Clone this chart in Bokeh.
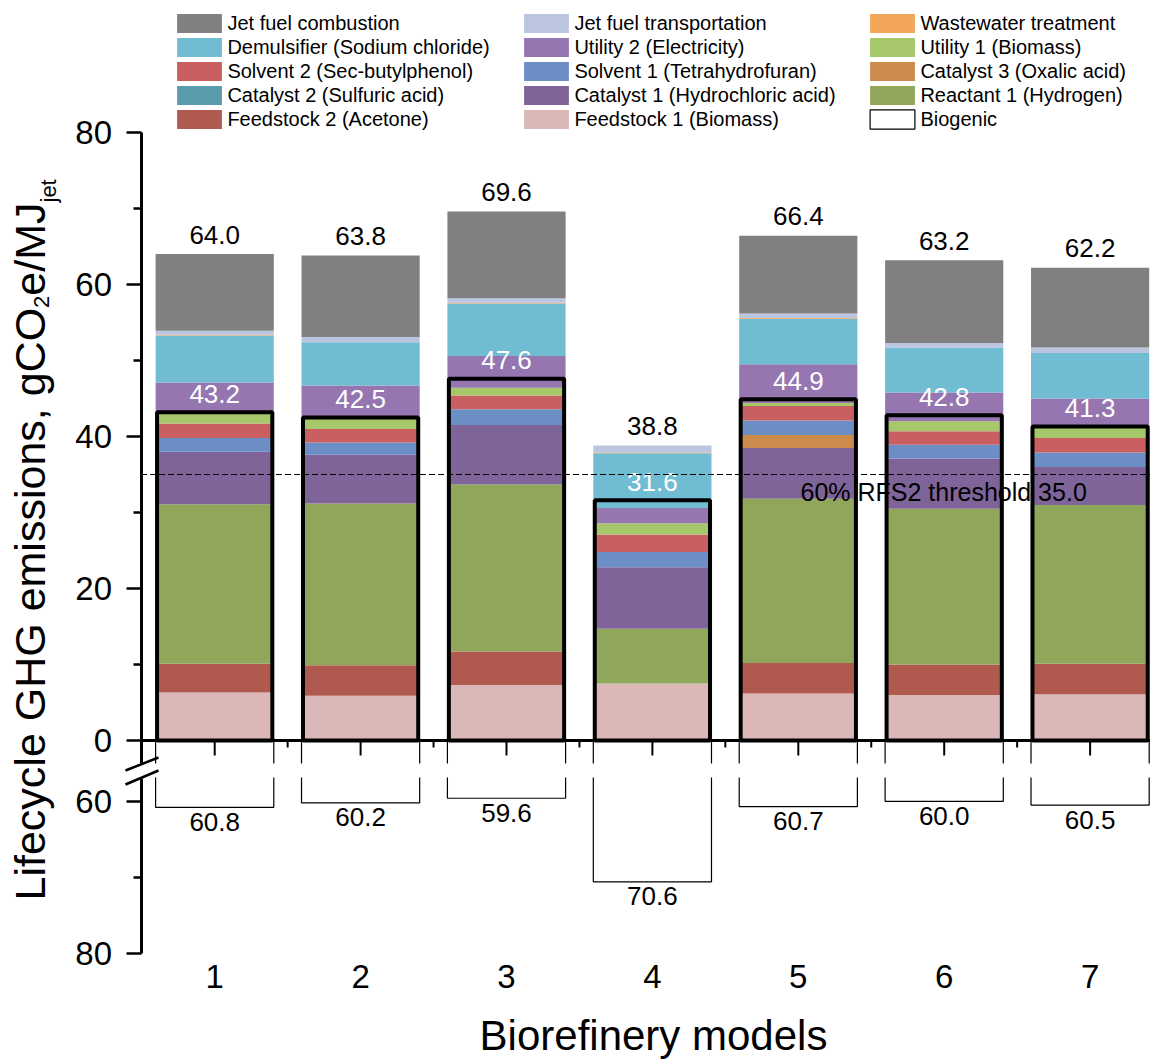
import math
from bokeh.plotting import figure
from bokeh.models import (ColumnDataSource, FixedTicker, Range1d, Label,
                          Legend, LegendItem, PolyAnnotation, Arrow)
from bokeh.core.properties import value
from bokeh.embed import file_html
from bokeh.resources import INLINE

# ---------------- data ----------------
models = [1, 2, 3, 4, 5, 6, 7]

feedstock1 = [6.3, 5.9, 7.3, 7.5, 6.2, 6.0, 6.1]
feedstock2 = [3.8, 4.0, 4.4, 0.0, 4.0, 4.0, 4.0]
reactant1 = [21.0, 21.3, 22.0, 7.2, 21.6, 20.5, 20.9]
catalyst1 = [6.9, 6.4, 7.8, 8.1, 6.7, 6.6, 5.0]
catalyst2 = [0.0, 0.0, 0.0, 0.0, 0.0, 0.0, 0.0]
catalyst3 = [0.0, 0.0, 0.0, 0.0, 1.7, 0.0, 0.0]
solvent1 = [1.8, 1.6, 2.1, 2.0, 1.9, 1.8, 1.9]
solvent2 = [1.9, 1.8, 1.8, 2.3, 1.9, 1.8, 1.9]
utility1 = [1.5, 1.5, 1.0, 1.5, 0.4, 1.3, 1.4]
utility2 = [3.9, 4.2, 4.2, 2.0, 5.1, 3.8, 3.8]
demulsifier = [6.2, 5.7, 6.9, 7.2, 6.0, 5.9, 6.0]
wastewater = [0.1, 0.0, 0.1, 0.1, 0.1, 0.0, 0.0]
transport = [0.5, 0.7, 0.6, 0.9, 0.6, 0.6, 0.7]
combustion = [10.1, 10.7, 11.4, 0.0, 10.2, 10.9, 10.5]

totals = [64.0, 63.8, 69.6, 38.8, 66.4, 63.2, 62.2]
biogenic_box = [43.2, 42.5, 47.6, 31.6, 44.9, 42.8, 41.3]
biogenic_credit = [60.8, 60.2, 59.6, 70.6, 60.7, 60.0, 60.5]
threshold = 35.0

upper_major = [0, 20, 40, 60, 80]
upper_minor = [10, 30, 50, 70]
lower_major = [60, 80]
lower_minor = [70]
BREAK_BASE = 52  # lower (broken) segment: plotted y = -(value - BREAK_BASE)

series_names = [
    "Feedstock 1 (Biomass)", "Feedstock 2 (Acetone)", "Reactant 1 (Hydrogen)",
    "Catalyst 1 (Hydrochloric acid)", "Catalyst 2 (Sulfuric acid)", "Catalyst 3 (Oxalic acid)",
    "Solvent 1 (Tetrahydrofuran)", "Solvent 2 (Sec-butylphenol)", "Utility 1 (Biomass)",
    "Utility 2 (Electricity)", "Demulsifier (Sodium chloride)", "Wastewater treatment",
    "Jet fuel transportation", "Jet fuel combustion",
]
series_values = [feedstock1, feedstock2, reactant1, catalyst1, catalyst2, catalyst3,
                 solvent1, solvent2, utility1, utility2, demulsifier, wastewater,
                 transport, combustion]
series_colors = ["#dbb8b7", "#b0594f", "#8fa65b", "#7e6498", "#5b9bab", "#cc8a4b",
                 "#6b8ec5", "#c95f60", "#a6c86b", "#9676b0", "#70bcd2", "#f2a65a",
                 "#bcc5e0", "#808080"]

# ---------------- layout constants (canvas == page, frame == canvas) ----------------
W, H = 1150, 1061
PX_X = 145.9          # px per x unit
PX_Y = 7.6            # px per y unit
X1_PX = 214.2         # px of x=1
Y0_PX = 740.0         # px of y=0
FONT = "Liberation Sans"
BL = 0.38             # empirical baseline correction (em) for alphabetic text in svg


def px2x(px):
    return 1 + (px - X1_PX) / PX_X


def px2y(py):
    return (Y0_PX - py) / PX_Y


x_lo, x_hi = px2x(0), px2x(W)
y_lo, y_hi = px2y(H), px2y(0)
AXIS_X = px2x(140.5)
BAR_W = 0.81

p = figure(width=W, height=H, x_range=Range1d(x_lo, x_hi), y_range=Range1d(y_lo, y_hi),
           output_backend="svg", toolbar_location=None,
           min_border_left=0, min_border_right=0, min_border_top=0, min_border_bottom=0)
p.grid.visible = False
p.outline_line_color = None
p.background_fill_color = "white"
p.border_fill_color = "white"

# ---------------- stacked bars ----------------
keys = [f"s{i}" for i in range(len(series_names))]
data = {"x": models}
for k, v in zip(keys, series_values):
    data[k] = v
src = ColumnDataSource(data)
stack_r = p.vbar_stack(keys, x="x", width=BAR_W, source=src,
                       fill_color=series_colors, line_color=None)
rmap = dict(zip(series_names, stack_r))

# biogenic boxes (thick outline)
p.vbar(x=models, top=biogenic_box, bottom=0, width=BAR_W - 0.02,
       fill_color=None, line_color="black", line_width=4)

# biogenic credit on broken lower segment
credit_plot = [-(c - BREAK_BASE) for c in biogenic_credit]
bio_r = p.vbar(x=models, top=0, bottom=credit_plot, width=BAR_W,
               fill_color=None, line_color="black", line_width=1.2)
rmap["Biogenic"] = bio_r

# value labels
LBL = 26
p.text(x=models, y=[t + (9.5 + BL * LBL) / PX_Y for t in totals],
       text=[f"{v:.1f}" for v in totals],
       text_font=value(FONT), text_font_size=f"{LBL}px", text_align="center",
       text_baseline="alphabetic", text_color="black")
p.text(x=models, y=[b + (8.5 + BL * LBL) / PX_Y for b in biogenic_box],
       text=[f"{v:.1f}" for v in biogenic_box],
       text_font=value(FONT), text_font_size=f"{LBL}px", text_align="center",
       text_baseline="alphabetic", text_color="white")
p.text(x=models, y=[c - 5.5 / PX_Y for c in credit_plot],
       text=[f"{v:.1f}" for v in biogenic_credit],
       text_font=value(FONT), text_font_size=f"{LBL}px", text_align="center",
       text_baseline="top", text_color="black")

# zero line with its ticks
p.segment(x0=AXIS_X, y0=0, x1=x_hi, y1=0, line_color="black", line_width=3)
p.segment(x0=models, y0=[0] * len(models), x1=models, y1=[-15 / PX_Y] * len(models),
          line_color="black", line_width=2)
mids = [m + 0.5 for m in models]
p.segment(x0=mids, y0=[0] * len(mids), x1=mids, y1=[-7 / PX_Y] * len(mids),
          line_color="black", line_width=2)

# threshold line + label
p.segment(x0=AXIS_X, y0=threshold, x1=x_hi, y1=threshold, line_color="black",
          line_width=1.2, line_dash="6 3")
p.add_layout(Label(x=px2x(800), y=px2y(501 - BL * 25),
                   text=f"60% RFS2 threshold  {threshold:.1f}", text_font=FONT,
                   text_font_size="25px", text_color="black", text_baseline="alphabetic"))

# ---------------- axes ----------------
ya = p.yaxis[0]
major = [-(v - BREAK_BASE) for v in lower_major] + upper_major
minor = [-(v - BREAK_BASE) for v in lower_minor] + upper_minor
ya.fixed_location = AXIS_X
ya.ticker = FixedTicker(ticks=major, minor_ticks=minor)
ya.major_label_overrides = {-(v - BREAK_BASE): str(v) for v in lower_major}
ya.bounds = (-(lower_major[-1] - BREAK_BASE), upper_major[-1])
ya.axis_line_width = 3
ya.major_tick_line_width = 2.5
ya.minor_tick_line_width = 2.5
ya.major_tick_out = 15
ya.major_tick_in = 0
ya.minor_tick_out = 8
ya.minor_tick_in = 0
ya.major_label_standoff = 14
ya.major_label_text_font = FONT
ya.major_label_text_font_size = "33px"
ya.major_label_text_color = "black"

xa = p.xaxis[0]
xa.fixed_location = px2y(952)
xa.ticker = FixedTicker(ticks=models)
xa.axis_line_color = None
xa.major_tick_line_color = None
xa.minor_tick_line_color = None
xa.major_label_standoff = 6
xa.major_label_text_font = FONT
xa.major_label_text_font_size = "33px"
xa.major_label_text_color = "black"

p.add_layout(Label(x=px2x(653), y=px2y(1051 - BL * 42), text="Biorefinery models",
                   text_font=FONT, text_font_size="42px", text_color="black",
                   text_align="center", text_baseline="alphabetic"))

# axis break (white band + double slash), drawn over the axis
g_top, g_bot = px2y(763), px2y(777)
p.add_layout(PolyAnnotation(xs=[px2x(122), x_hi + 0.1, x_hi + 0.1, px2x(122)],
                            ys=[g_top, g_top, g_bot, g_bot],
                            fill_color="white", fill_alpha=1, line_alpha=0))
for ya_px, yb_px in [(770, 757), (784, 770)]:
    p.add_layout(Arrow(end=None, x_start=px2x(125), y_start=px2y(ya_px),
                       x_end=px2x(158), y_end=px2y(yb_px),
                       line_color="black", line_width=2.5))

# ---------------- y title with subscripts (rotated labels) ----------------
ARIAL = {"L": 556, "i": 222, "f": 278, "e": 556, "c": 500, "y": 500, "l": 222, " ": 278,
         "G": 778, "H": 722, "m": 833, "s": 500, "o": 556, "n": 556, ",": 278, "g": 556,
         "C": 722, "O": 778, "2": 556, "/": 278, "M": 833, "J": 500, "j": 222, "t": 278}


def text_w(s, size):
    return sum(ARIAL.get(ch, 556) for ch in s) / 1000 * size


title_parts = [("Lifecycle GHG emissions, gCO", 43, 46), ("2", 22, 49),
               ("e/MJ", 43, 46), ("jet", 22, 56)]
ypos = px2y(900)
for txt, size, base_px in title_parts:
    p.add_layout(Label(x=px2x(base_px - BL * size), y=ypos, text=txt, angle=math.pi / 2,
                       text_font=FONT, text_font_size=f"{size}px", text_color="black",
                       text_align="left", text_baseline="alphabetic"))
    ypos += text_w(txt, size) / PX_Y

# ---------------- legend (3 columns) ----------------
legend_cols = [
    (["Jet fuel combustion", "Demulsifier (Sodium chloride)", "Solvent 2 (Sec-butylphenol)",
      "Catalyst 2 (Sulfuric acid)", "Feedstock 2 (Acetone)"], 177),
    (["Jet fuel transportation", "Utility 2 (Electricity)", "Solvent 1 (Tetrahydrofuran)",
      "Catalyst 1 (Hydrochloric acid)", "Feedstock 1 (Biomass)"], 524),
    (["Wastewater treatment", "Utility 1 (Biomass)", "Catalyst 3 (Oxalic acid)",
      "Reactant 1 (Hydrogen)", "Biogenic"], 870),
]
GW, GH = 56, 24
for names, swatch_left in legend_cols:
    items = [LegendItem(label=n, renderers=[rmap[n]]) for n in names]
    lg = Legend(items=items, location=(swatch_left - GW * 0.1, H - 131),
                orientation="vertical", glyph_width=GW, glyph_height=GH, spacing=0,
                label_standoff=0, padding=0, margin=0, border_line_color=None,
                background_fill_alpha=0, label_text_font=FONT, label_text_font_size="20px",
                label_text_color="black", label_height=20)
    p.add_layout(lg)

open("out.html", "w").write(file_html(p, INLINE))
